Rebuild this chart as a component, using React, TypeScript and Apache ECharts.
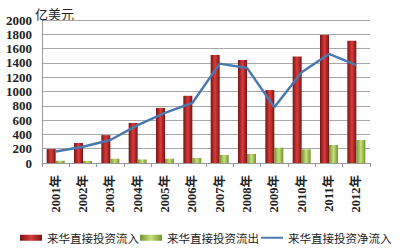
import React, { useEffect, useRef } from "react";
import * as echarts from "echarts";

const categories = ["2001年", "2002年", "2003年", "2004年", "2005年", "2006年", "2007年", "2008年", "2009年", "2010年", "2011年", "2012年"];
const inflow = [195, 280, 390, 560, 770, 940, 1510, 1440, 1020, 1490, 1790, 1710];
const outflow = [30, 30, 60, 50, 60, 70, 112, 126, 214, 191, 252, 322];
const netInflow = [160, 228, 322, 531, 700, 840, 1390, 1330, 780, 1270, 1525, 1370];
const seriesNames = ["来华直接投资流入", "来华直接投资流出", "来华直接投资净流入"];
const unitLabel = "亿美元";

export default function App() {
  const ref = useRef<HTMLDivElement>(null);
  useEffect(() => {
    if (!ref.current) return;
    const chart = echarts.init(ref.current, null, { renderer: "svg" });
    const font = "'Liberation Serif', 'Noto Sans CJK SC', serif";
    chart.setOption({
      animation: false,
      backgroundColor: "#ffffff",
      grid: { left: 42, right: 30, top: 20, bottom: 87 },
      graphic: [
        {
          type: "text",
          left: 35,
          top: 7,
          style: { text: unitLabel, fontSize: 13, fill: "#222", fontFamily: "'Noto Sans CJK SC', sans-serif" },
        },
      ],
      legend: {
        left: 20,
        top: 232,
        width: 385,
        itemWidth: 22,
        itemHeight: 6,
        itemGap: 1,
        padding: 0,
        textStyle: { fontSize: 11.5, color: "#222", fontFamily: "'Noto Sans CJK SC', sans-serif" },
        data: [
          { name: seriesNames[0], icon: "rect" },
          { name: seriesNames[1], icon: "rect" },
          { name: seriesNames[2], itemStyle: { opacity: 0 } },
        ],
      },
      xAxis: {
        type: "category",
        data: categories,
        axisLine: { lineStyle: { color: "#999" } },
        axisTick: { show: true, length: 4, lineStyle: { color: "#999" } },
        axisLabel: { rotate: 90, fontSize: 12.5, color: "#222", fontWeight: "bold", fontFamily: font, margin: 12 },
      },
      yAxis: {
        type: "value",
        min: 0,
        max: 2000,
        interval: 200,
        axisLine: { show: true, lineStyle: { color: "#999" } },
        axisTick: { show: false },
        splitLine: { lineStyle: { color: "#a8a8a8", width: 1 } },
        axisLabel: {
          fontSize: 13,
          color: "#222",
          fontWeight: "bold",
          fontFamily: font,
          margin: 10,
          formatter: (v: number) => String(v),
        },
      },
      series: [
        {
          name: seriesNames[0],
          type: "bar",
          data: inflow,
          barWidth: 9,
          barGap: "0%",
          itemStyle: {
            color: new echarts.graphic.LinearGradient(0, 0, 1, 0, [
              { offset: 0, color: "#7a1414" },
              { offset: 0.5, color: "#d83c3c" },
              { offset: 1, color: "#7a1414" },
            ]),
          },
        },
        {
          name: seriesNames[1],
          type: "bar",
          data: outflow,
          barWidth: 9,
          barGap: "0%",
          itemStyle: {
            color: new echarts.graphic.LinearGradient(0, 0, 1, 0, [
              { offset: 0, color: "#74932c" },
              { offset: 0.5, color: "#c6e07e" },
              { offset: 1, color: "#74932c" },
            ]),
          },
        },
        {
          name: seriesNames[2],
          type: "line",
          data: netInflow,
          symbol: "none",
          lineStyle: { color: "#4a78b0", width: 2.5 },
          itemStyle: { color: "#4a78b0" },
        },
      ],
    });
    return () => chart.dispose();
  }, []);
  return <div ref={ref} style={{ position: "fixed", left: 0, top: 0, width: 400, height: 250 }} />;
}
